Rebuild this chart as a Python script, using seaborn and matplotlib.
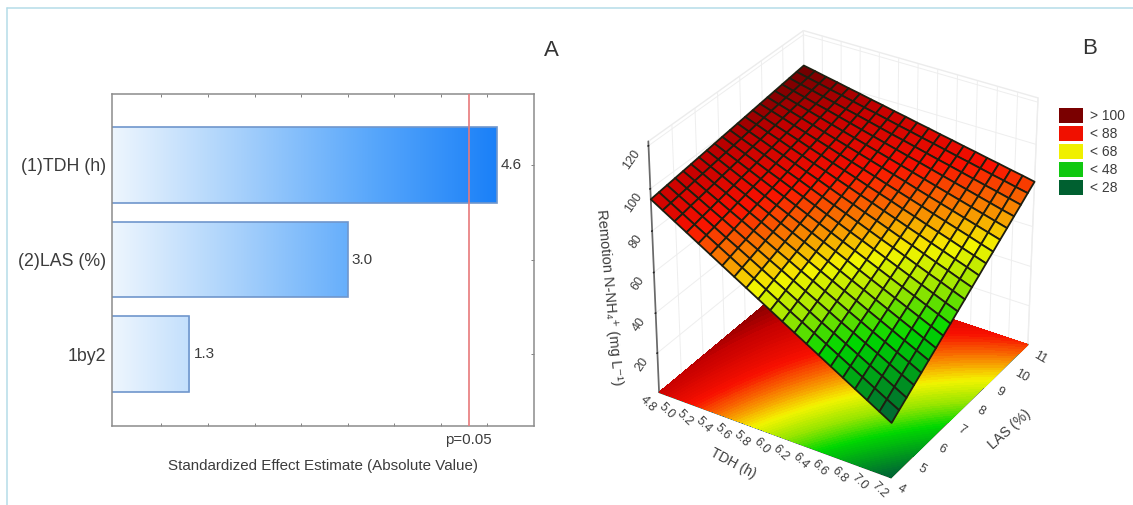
import numpy as np
import matplotlib
matplotlib.use('Agg')
import matplotlib.pyplot as plt
from matplotlib.colors import LinearSegmentedColormap, Normalize
from matplotlib.lines import Line2D
from matplotlib.patches import Patch
import seaborn as sns

# ============================================
# 1. DATA
# ============================================
# Panel A: Pareto chart
effect_names = ['(1)TDH (h)', '(2)LAS (%)', '1by2']
effect_values = [4.6, 3.0, 1.3]
p_limit = 4.3

# Panel B: response surface
tdh_ticks = [4.8, 5.0, 5.2, 5.4, 5.6, 5.8, 6.0, 6.2, 6.4, 6.6, 6.8, 7.0, 7.2]
las_ticks = [4, 5, 6, 7, 8, 9, 10, 11]
z_ticks = [20, 40, 60, 80, 100, 120]
tdh_grid = [4.80, 4.92, 5.04, 5.16, 5.28, 5.40, 5.52, 5.64, 5.76, 5.88, 6.00,
            6.12, 6.24, 6.36, 6.48, 6.60, 6.72, 6.84, 6.96, 7.08, 7.20]
las_grid = [4.00, 4.35, 4.70, 5.05, 5.40, 5.75, 6.10, 6.45, 6.80, 7.15, 7.50,
            7.85, 8.20, 8.55, 8.90, 9.25, 9.60, 9.95, 10.30, 10.65, 11.00]
# one row per LAS value, one column per TDH value
removal = [
    [95.0, 91.6, 88.2, 84.8, 81.4, 78.0, 74.6, 71.2, 67.8, 64.4, 61.0, 57.6, 54.2, 50.8, 47.4, 44.0, 40.6, 37.2, 33.8, 30.4, 27.0],
    [95.5, 92.2, 88.9, 85.6, 82.4, 79.1, 75.8, 72.5, 69.2, 65.9, 62.6, 59.3, 56.1, 52.8, 49.5, 46.2, 42.9, 39.6, 36.3, 33.0, 29.8],
    [96.0, 92.8, 89.7, 86.5, 83.3, 80.1, 77.0, 73.8, 70.6, 67.4, 64.3, 61.1, 57.9, 54.7, 51.6, 48.4, 45.2, 42.0, 38.9, 35.7, 32.5],
    [96.5, 93.4, 90.4, 87.3, 84.3, 81.2, 78.1, 75.1, 72.0, 69.0, 65.9, 62.8, 59.8, 56.7, 53.6, 50.6, 47.5, 44.5, 41.4, 38.3, 35.3],
    [97.0, 94.1, 91.1, 88.2, 85.2, 82.3, 79.3, 76.4, 73.4, 70.5, 67.5, 64.6, 61.6, 58.7, 55.7, 52.8, 49.8, 46.9, 43.9, 41.0, 38.0],
    [97.5, 94.7, 91.8, 89.0, 86.2, 83.3, 80.5, 77.6, 74.8, 72.0, 69.1, 66.3, 63.5, 60.6, 57.8, 54.9, 52.1, 49.3, 46.4, 43.6, 40.8],
    [98.0, 95.3, 92.6, 89.8, 87.1, 84.4, 81.7, 78.9, 76.2, 73.5, 70.8, 68.0, 65.3, 62.6, 59.9, 57.1, 54.4, 51.7, 49.0, 46.2, 43.5],
    [98.5, 95.9, 93.3, 90.7, 88.1, 85.4, 82.8, 80.2, 77.6, 75.0, 72.4, 69.8, 67.2, 64.5, 61.9, 59.3, 56.7, 54.1, 51.5, 48.9, 46.3],
    [99.0, 96.5, 94.0, 91.5, 89.0, 86.5, 84.0, 81.5, 79.0, 76.5, 74.0, 71.5, 69.0, 66.5, 64.0, 61.5, 59.0, 56.5, 54.0, 51.5, 49.0],
    [99.5, 97.1, 94.7, 92.3, 89.9, 87.6, 85.2, 82.8, 80.4, 78.0, 75.6, 73.2, 70.9, 68.5, 66.1, 63.7, 61.3, 58.9, 56.5, 54.1, 51.8],
    [100.0, 97.7, 95.5, 93.2, 90.9, 88.6, 86.4, 84.1, 81.8, 79.5, 77.3, 75.0, 72.7, 70.4, 68.2, 65.9, 63.6, 61.3, 59.1, 56.8, 54.5],
    [100.5, 98.3, 96.2, 94.0, 91.9, 89.7, 87.5, 85.4, 83.2, 81.0, 78.9, 76.7, 74.6, 72.4, 70.2, 68.1, 65.9, 63.7, 61.6, 59.4, 57.3],
    [101.0, 99.0, 96.9, 94.9, 92.8, 90.8, 88.7, 86.7, 84.6, 82.6, 80.5, 78.5, 76.4, 74.4, 72.3, 70.3, 68.2, 66.2, 64.1, 62.1, 60.0],
    [101.5, 99.6, 97.6, 95.7, 93.8, 91.8, 89.9, 87.9, 86.0, 84.1, 82.1, 80.2, 78.3, 76.3, 74.4, 72.4, 70.5, 68.6, 66.6, 64.7, 62.8],
    [102.0, 100.2, 98.4, 96.5, 94.7, 92.9, 91.1, 89.2, 87.4, 85.6, 83.8, 81.9, 80.1, 78.3, 76.5, 74.6, 72.8, 71.0, 69.2, 67.3, 65.5],
    [102.5, 100.8, 99.1, 97.4, 95.7, 93.9, 92.2, 90.5, 88.8, 87.1, 85.4, 83.7, 82.0, 80.2, 78.5, 76.8, 75.1, 73.4, 71.7, 70.0, 68.3],
    [103.0, 101.4, 99.8, 98.2, 96.6, 95.0, 93.4, 91.8, 90.2, 88.6, 87.0, 85.4, 83.8, 82.2, 80.6, 79.0, 77.4, 75.8, 74.2, 72.6, 71.0],
    [103.5, 102.0, 100.5, 99.0, 97.6, 96.1, 94.6, 93.1, 91.6, 90.1, 88.6, 87.1, 85.7, 84.2, 82.7, 81.2, 79.7, 78.2, 76.7, 75.2, 73.8],
    [104.0, 102.6, 101.3, 99.9, 98.5, 97.1, 95.8, 94.4, 93.0, 91.6, 90.3, 88.9, 87.5, 86.1, 84.8, 83.4, 82.0, 80.6, 79.3, 77.9, 76.5],
    [104.5, 103.2, 102.0, 100.7, 99.5, 98.2, 96.9, 95.7, 94.4, 93.1, 91.9, 90.6, 89.4, 88.1, 86.8, 85.6, 84.3, 83.0, 81.8, 80.5, 79.3],
    [105.0, 103.9, 102.7, 101.6, 100.4, 99.3, 98.1, 97.0, 95.8, 94.7, 93.5, 92.4, 91.2, 90.1, 88.9, 87.8, 86.6, 85.5, 84.3, 83.2, 82.0],
]
legend_labels = ['> 100', '< 88', '< 68', '< 48', '< 28']
legend_colors = ['#7a0000', '#f01000', '#f0f000', '#10c810', '#006030']

# ============================================
# 2. STYLE
# ============================================
sns.set_theme(style='white')
plt.rcParams['font.family'] = ['Liberation Sans', 'DejaVu Sans']
W, H = 1133, 505
TXT = '#3c3c3c'
fig = plt.figure(figsize=(W / 100, H / 100), dpi=100, facecolor='white')

def px_rect(x0, y0, x1, y1):
    return [x0 / W, 1 - y1 / H, (x1 - x0) / W, (y1 - y0) / H]

# thin page border at the top and left
fig.add_artist(Line2D([7 / W, 7 / W], [0, 1 - 7.5 / H], color='#b5dde8', lw=1.1))
fig.add_artist(Line2D([7 / W, 1], [1 - 7.5 / H, 1 - 7.5 / H], color='#b5dde8', lw=1.1))

# ============================================
# 3. PANEL A - PARETO
# ============================================
ax = fig.add_axes(px_rect(112, 94, 534, 426))
ax.yaxis.grid(True, color='#e2e2e2', lw=0.8)
ax.set_axisbelow(True)
sns.barplot(x=effect_values, y=effect_names, orient='h', width=0.8, ax=ax,
            color='white', edgecolor='#6f96cc', linewidth=1.2, zorder=2)
xlim = (0.47, 5.0)
ylim = (2.76, -0.75)

blues = LinearSegmentedColormap.from_list('bar_fade', ['#eef6fe', '#a6d0fb', '#5aa8fb', '#1a80f8'])
for bar in ax.containers[0]:
    bar.set_facecolor('none')
    y0, y1 = bar.get_y(), bar.get_y() + bar.get_height()
    im = ax.imshow(np.linspace(0, 1, 256).reshape(1, -1), cmap=blues, aspect='auto',
                   extent=[xlim[0], max(effect_values), y1, y0], zorder=1.5)
    im.set_clip_path(bar)
ax.bar_label(ax.containers[0], labels=[f'{v:.1f}' for v in effect_values], padding=3,
             fontsize=11, color=TXT)

ax.axvline(p_limit, color='#e8797a', lw=1.2, zorder=3)
ax.set_xlim(*xlim)
ax.set_ylim(*ylim)
ax.set_xticks(np.arange(1, 5, 0.5))
ax.set_xticklabels([])
ax.tick_params(axis='x', direction='in', length=2, width=0.7, color='#808080', top=True, bottom=True)
ax.tick_params(axis='y', direction='in', length=2, width=0.7, color='#808080', left=True, right=True,
               labelsize=12.8, labelcolor=TXT, pad=4)
ax.set_ylabel('')
for s in ax.spines.values():
    s.set_color('#8c8c8c')
    s.set_linewidth(1.1)
ax.annotate('p=0.05', (p_limit, 0), xycoords=('data', 'axes fraction'), xytext=(0, -10),
            textcoords='offset points', ha='center', va='center', fontsize=10.8, color=TXT)
ax.set_xlabel('Standardized Effect Estimate (Absolute Value)', fontsize=10.9, color=TXT, labelpad=20)

fig.text(551 / W, 1 - 50 / H, 'A', fontsize=16, color='#333333', ha='center', va='center')
fig.text(1090 / W, 1 - 48 / H, 'B', fontsize=16, color='#333333', ha='center', va='center')

# ============================================
# 4. PANEL B - SURFACE
# ============================================
anchors = [(25, '#005a32'), (30, '#006e30'), (48, '#00d800'), (57, '#90e400'), (67, '#f4f400'),
           (76, '#f88000'), (85, '#f81000'), (97, '#c40000'), (105, '#6c0000')]
zlo, zhi = anchors[0][0], anchors[-1][0]
surface_colors = LinearSegmentedColormap.from_list(
    'surface', [((v - zlo) / (zhi - zlo), c) for v, c in anchors])
norm = Normalize(vmin=zlo, vmax=zhi)

tdh = np.array(tdh_grid)
las = np.array(las_grid)
z = np.array(removal)
X, Y = np.meshgrid(tdh, las)

ax3 = fig.add_axes(px_rect(584, -16, 1094, 524), projection='3d', computed_zorder=False)
ax3.patch.set_alpha(0)
ax3.view_init(elev=31.5, azim=-58)
ax3.set_box_aspect((1, 1, 1.06), zoom=0.925)
ax3.set_proj_type('persp', focal_length=1.0)
ax3.set_xlim(4.8, 7.2, view_margin=0)
ax3.set_ylim(4, 11, view_margin=0)
ax3.set_zlim(0, 122, view_margin=0)

ax3.contourf(X, Y, z, levels=80, cmap=surface_colors, norm=norm, zdir='z', offset=0, zorder=1)
ax3.plot_surface(X, Y, z, rstride=1, cstride=1, cmap=surface_colors, norm=norm, shade=False,
                 edgecolor='#1e1e10', linewidth=1.3, antialiased=True, zorder=2)

ax3.set_xticks(tdh_ticks)
ax3.set_xticklabels([f'{v:.1f}' for v in tdh_ticks])
ax3.set_yticks(las_ticks)
ax3.set_zticks(z_ticks)
ax3.zaxis.set_ticks_position('lower')
for axis in (ax3.xaxis, ax3.yaxis, ax3.zaxis):
    axis.set_pane_color((1, 1, 1, 1))
    axis.pane.set_edgecolor('#ececec')
    axis._axinfo['grid'].update(color='#eeeeee', linewidth=0.7)
    axis.line.set_color('#d8d8d8')
for axis in (ax3.xaxis, ax3.yaxis):
    axis._axinfo['tick'].update(inward_factor=0, outward_factor=0)
ax3.zaxis._axinfo['tick'].update(inward_factor=0.03, outward_factor=0)
ax3.zaxis.line.set_color('#6a6a6a')
ax3.xaxis.line.set_color('#2a4a2a')
ax3.yaxis.line.set_color('#556b2f')
ax3.tick_params(axis='x', labelsize=9, labelcolor=TXT, labelrotation=-45, pad=-7)
ax3.tick_params(axis='y', labelsize=9, labelcolor=TXT, labelrotation=-30, pad=-5)
ax3.tick_params(axis='z', labelsize=9, labelcolor=TXT, labelrotation=55, pad=0)
for t in ax3.get_xticklabels():
    t.set_ha('right')
for t in ax3.get_yticklabels():
    t.set_ha('left')

fig.text(733 / W, 1 - 463 / H, 'TDH (h)', rotation=-28, fontsize=10, color=TXT, ha='center', va='center')
fig.text(1010 / W, 1 - 429 / H, 'LAS (%)', rotation=42, fontsize=10, color=TXT, ha='center', va='center')
fig.text(609 / W, 1 - 297 / H, 'Remotion N-NH₄⁺ (mg L⁻¹)', rotation=-84.7, fontsize=10.5, color=TXT,
         ha='center', va='center')

handles = [Patch(facecolor=c, edgecolor='none') for c in legend_colors]
fig.legend(handles, legend_labels, loc='upper left', bbox_to_anchor=(1059 / W, 1 - 108 / H), frameon=False,
           fontsize=10, labelcolor=TXT, handlelength=1.75, handleheight=1.3, labelspacing=0.2,
           handletextpad=0.5, borderpad=0, borderaxespad=0)

plt.savefig('out.png', dpi=100)
print('ok')
